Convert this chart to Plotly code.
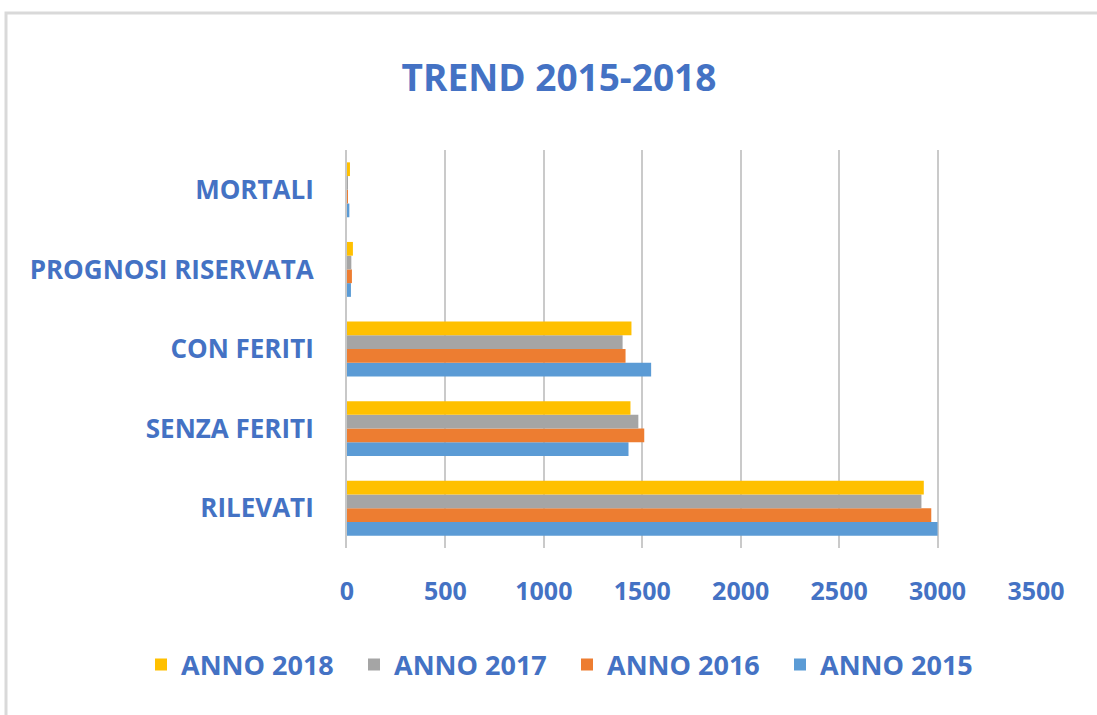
import plotly.graph_objects as go

categories = ["RILEVATI", "SENZA FERITI", "CON FERITI", "PROGNOSI RISERVATA", "MORTALI"]
anno_2015 = [3000, 1430, 1545, 20, 12]
anno_2016 = [2968, 1510, 1415, 25, 5]
anno_2017 = [2918, 1480, 1400, 22, 4]
anno_2018 = [2930, 1440, 1445, 30, 15]
series_names = ["ANNO 2015", "ANNO 2016", "ANNO 2017", "ANNO 2018"]
series_values = [anno_2015, anno_2016, anno_2017, anno_2018]
colors = ["#5B9BD5", "#ED7D31", "#A5A5A5", "#FFC000"]
x_ticks = [0, 500, 1000, 1500, 2000, 2500, 3000, 3500]

TXT = "#4472C4"
FONT = "Open Sans"

fig = go.Figure()
for name, vals, col in zip(series_names, series_values, colors):
    fig.add_trace(go.Bar(y=categories, x=vals, name=f"<b>{name}</b>", orientation="h",
                         marker=dict(color=col, line=dict(width=0))))

W, H = 1097, 715
L, R, T, B = 347, 61, 150, 167
pw = W - L - R
ph = H - T - B

def px(xp):
    return (xp - L) / pw

def py(yp):
    return (H - B - yp) / ph

fig.update_layout(
    width=W, height=H,
    margin=dict(l=L, r=R, t=T, b=B),
    paper_bgcolor="white", plot_bgcolor="white",
    barmode="group", bargap=0.31, bargroupgap=0,
    title=dict(text="<b>TREND 2015-2018</b>", x=559 / W, xanchor="center",
               y=1 - 78 / H, yanchor="middle",
               font=dict(family=FONT, size=37, color=TXT)),
    xaxis=dict(range=[0, 3500], tickvals=x_ticks, ticktext=[f"<b>{v}</b>" for v in x_ticks],
               showgrid=True, gridcolor="#CACACA", gridwidth=2,
               zeroline=False, showline=False, ticks="", ticklabelstandoff=26,
               tickfont=dict(family=FONT, size=25, color=TXT)),
    yaxis=dict(ticktext=[f"<b>{c}</b>" for c in categories], tickvals=categories,
               showgrid=False, zeroline=False, showline=True, linecolor="#C8C8C8", linewidth=2,
               ticks="", ticklabelstandoff=26,
               tickfont=dict(family=FONT, size=26, color=TXT)),
    legend=dict(orientation="h", traceorder="reversed", x=px(141),
                xanchor="left", y=py(665), yanchor="middle",
                font=dict(family=FONT, size=27, color=TXT),
                itemwidth=30, entrywidth=168, entrywidthmode="pixels"),
    showlegend=True,
)

fig.add_shape(type="rect", xref="paper", yref="paper",
              x0=px(6), x1=px(1100), y0=py(720), y1=py(13),
              line=dict(color="#D9D9D9", width=3), fillcolor="rgba(0,0,0,0)", layer="below")

fig.write_html("out.html", config={"displayModeBar": False},
               post_script="document.body.style.margin='0';")
